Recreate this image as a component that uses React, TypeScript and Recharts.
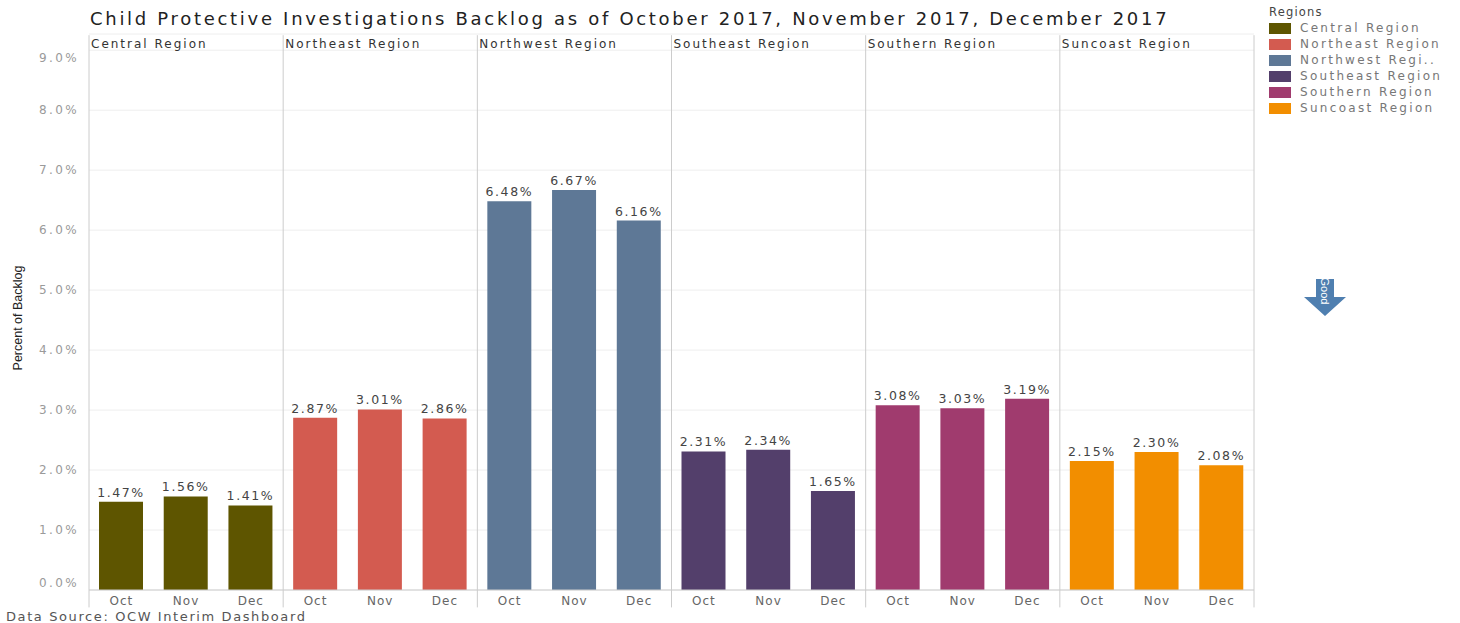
import React from "react";
import {
  BarChart,
  Bar,
  XAxis,
  YAxis,
  CartesianGrid,
  Cell,
  LabelList,
  ReferenceLine,
  ReferenceArea,
} from "recharts";

const months = ["Oct", "Nov", "Dec"];
const regions = [
  "Central Region",
  "Northeast Region",
  "Northwest Region",
  "Southeast Region",
  "Southern Region",
  "Suncoast Region",
];
const legendLabels = [
  "Central Region",
  "Northeast Region",
  "Northwest Regi..",
  "Southeast Region",
  "Southern Region",
  "Suncoast Region",
];
const regionColors = ["#5e5500", "#d35b50", "#5e7896", "#533f6b", "#a03b6e", "#f28e00"];
const centralValues = [1.47, 1.56, 1.41];
const northeastValues = [2.87, 3.01, 2.86];
const northwestValues = [6.48, 6.67, 6.16];
const southeastValues = [2.31, 2.34, 1.65];
const southernValues = [3.08, 3.03, 3.19];
const suncoastValues = [2.15, 2.3, 2.08];
const yTicks = [0, 1, 2, 3, 4, 5, 6, 7, 8, 9];
const dividers = [-0.5, 2.5, 5.5, 8.5, 11.5, 14.5, 17.5];

const allValues = [
  centralValues,
  northeastValues,
  northwestValues,
  southeastValues,
  southernValues,
  suncoastValues,
];

const data = allValues.flatMap((vals, r) =>
  vals.map((v, m) => ({ idx: r * 3 + m, region: regions[r], month: months[m], value: v, r }))
);
const xTicks = data.map((d) => d.idx);

const FONT = "'DejaVu Sans', Verdana, sans-serif";
const NARROW = "'Liberation Sans Narrow', 'Liberation Sans', sans-serif";

const YTick = (props: any) => {
  const { x, y, payload } = props;
  let dy = 4;
  if (payload.value === 9) dy = 12;
  if (payload.value === 0) dy = -3;
  return (
    <text
      x={x - 2}
      y={y + dy}
      textAnchor="end"
      fill="#9a9a9a"
      fontSize={12}
      fontFamily={FONT}
      letterSpacing={2.4}
    >
      {Number(payload.value).toFixed(1) + "%"}
    </text>
  );
};

const XTick = (props: any) => {
  const { x, y, payload } = props;
  return (
    <text
      x={x}
      y={y + 7}
      textAnchor="middle"
      fill="#666"
      fontSize={12}
      fontFamily={FONT}
      letterSpacing={1}
    >
      {months[payload.value % 3]}
    </text>
  );
};

const YLabel = (props: any) => {
  const vb = props.viewBox || { x: 0, y: 0, width: 0, height: 0 };
  const cx = vb.x + 13;
  const cy = vb.y + vb.height / 2 + 6;
  return (
    <text
      x={cx}
      y={cy}
      transform={`rotate(-90 ${cx} ${cy})`}
      textAnchor="middle"
      fill="#222"
      fontSize={12.5}
      fontFamily={NARROW}
    >
      Percent of Backlog
    </text>
  );
};

const makeHeader = (name: string) => (props: any) => {
  const vb = props.viewBox || { x: 0, y: 0, width: 0, height: 0 };
  return (
    <text
      x={vb.x + 2}
      y={vb.y + vb.height / 2 + 6}
      fill="#333"
      fontSize={12}
      fontFamily={FONT}
      letterSpacing={2}
    >
      {name}
    </text>
  );
};

export default function App() {
  return (
    <div style={{ position: "absolute", left: 0, top: 0, width: 1460, height: 623, background: "#fff" }}>
      <div
        style={{
          position: "absolute",
          left: 90,
          top: 8,
          fontFamily: FONT,
          fontSize: 18,
          color: "#222",
          letterSpacing: 2.7,
          whiteSpace: "nowrap",
        }}
      >
        Child Protective Investigations Backlog as of October 2017, November 2017, December 2017
      </div>
      <BarChart
        width={1460}
        height={623}
        data={data}
        margin={{ top: 34, right: 206, bottom: 13, left: 9 }}
      >
        <CartesianGrid horizontal vertical={false} stroke="#eeeeee" />
        <XAxis
          dataKey="idx"
          type="number"
          domain={[-0.5, 17.5]}
          ticks={xTicks}
          interval={0}
          tickLine={false}
          axisLine={{ stroke: "#cccccc" }}
          tick={<XTick />}
          height={20}
        />
        <YAxis
          type="number"
          domain={[0, 9.27]}
          ticks={yTicks}
          allowDataOverflow
          width={80}
          tickLine={false}
          axisLine={false}
          tick={<YTick />}
          label={<YLabel />}
        />
        {regions.map((r, i) => (
          <ReferenceArea
            key={r}
            x1={i * 3 - 0.5}
            x2={i * 3 + 2.5}
            y1={9}
            y2={9.27}
            fill="none"
            fillOpacity={0}
            label={makeHeader(r)}
          />
        ))}
        {dividers.map((x) => (
          <ReferenceLine
            key={x}
            ifOverflow="visible"
            segment={[
              { x, y: -0.29 },
              { x, y: 9.25 },
            ]}
            stroke="#cccccc"
          />
        ))}
        <Bar dataKey="value" barSize={44} isAnimationActive={false}>
          {data.map((d) => (
            <Cell key={d.idx} fill={regionColors[d.r]} />
          ))}
          <LabelList
            dataKey="value"
            position="top"
            offset={5}
            formatter={(v: number) => v.toFixed(2) + "%"}
            style={{ fontFamily: FONT, fontSize: 12.5, fill: "#444", letterSpacing: 1.6 }}
          />
        </Bar>
      </BarChart>
      <div style={{ position: "absolute", left: 1269, top: 5, fontFamily: FONT, fontSize: 12 }}>
        <div style={{ color: "#444", fontSize: 11.5, letterSpacing: 1.2, height: 15 }}>Regions</div>
        {legendLabels.map((l, i) => (
          <div key={l} style={{ display: "flex", alignItems: "center", height: 16 }}>
            <span
              style={{
                display: "inline-block",
                width: 22,
                height: 11,
                background: regionColors[i],
                marginRight: 9,
              }}
            />
            <span style={{ color: "#777", letterSpacing: 2.3 }}>{l}</span>
          </div>
        ))}
      </div>
      <svg style={{ position: "absolute", left: 1300, top: 276 }} width={50} height={44}>
        <polygon points="16,3 34,3 34,21 46,21 25,40 4,21 16,21" fill="#4f7fb0" />
        <text
          x={25}
          y={15}
          transform="rotate(90 25 15)"
          textAnchor="middle"
          fill="#fff"
          fontSize={11}
          fontFamily={NARROW}
          dy={4}
        >
          Good
        </text>
      </svg>
      <div
        style={{
          position: "absolute",
          left: 6,
          top: 609,
          fontFamily: FONT,
          fontSize: 13,
          color: "#555",
          letterSpacing: 1.6,
          whiteSpace: "nowrap",
        }}
      >
        Data Source: OCW Interim Dashboard
      </div>
    </div>
  );
}
